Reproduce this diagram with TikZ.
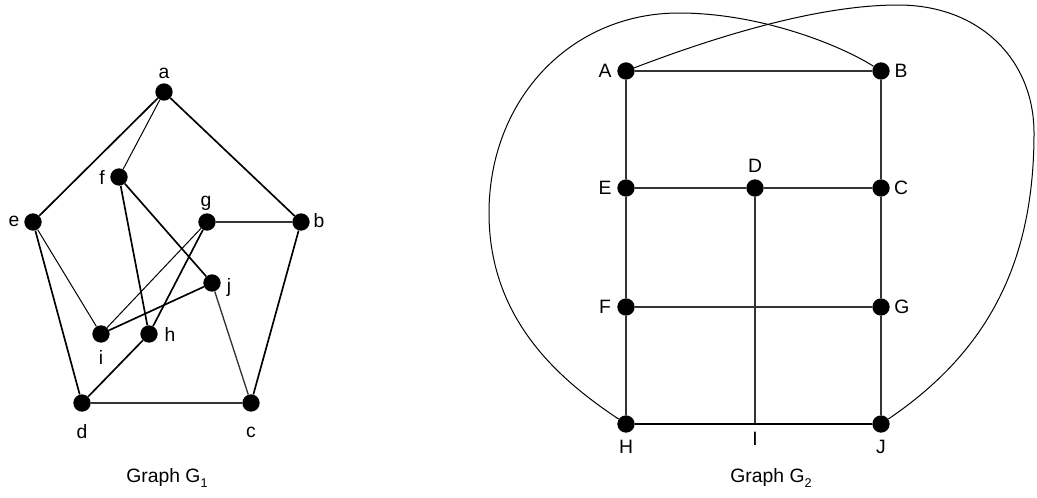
\documentclass[tikz,border=0pt]{standalone}
\usepackage{fontspec}
\setmainfont{Liberation Sans}
\newcommand{\lowsub}[1]{\raisebox{-0.45ex}{\fontsize{9.5pt}{10pt}\selectfont #1}}
\begin{document}
\begin{tikzpicture}[x=0.75pt,y=-0.75pt,
  vtx/.style={circle,fill=black,inner sep=0pt,minimum size=13pt},
  lbl/.style={inner sep=0pt,font=\fontsize{14.5pt}{16pt}\selectfont},
  thk/.style={line width=1.25pt},
  thn/.style={line width=0.75pt},
  med/.style={line width=1pt,black!80}]
\useasboundingbox (0,0) rectangle (1037,497);
% ---------- Graph G1 ----------
\node[vtx] (a) at (164,92) {};
\node[vtx] (b) at (301,222) {};
\node[vtx] (c) at (251,403) {};
\node[vtx] (d) at (82,403) {};
\node[vtx] (e) at (33,222) {};
\node[vtx] (f) at (119,177) {};
\node[vtx] (g) at (207,222) {};
\node[vtx] (h) at (149,334) {};
\node[vtx] (i) at (101,334) {};
\node[vtx] (j) at (212,283) {};
\node[lbl] at (164,73) {a};
\node[lbl] at (319,221) {b};
\node[lbl] at (251,432) {c};
\node[lbl] at (82,432) {d};
\node[lbl] at (14,221) {e};
\node[lbl] at (102,177) {f};
\node[lbl] at (206,203) {g};
\node[lbl] at (170,334) {h};
\node[lbl] at (101,357) {i};
\node[lbl] at (229,287) {j};
\draw[thk] (a) -- (e);
\draw[thk] (a) -- (b);
\draw[thn] (a) -- (f);
\draw[thk] (e) -- (d);
\draw[thn] (e) -- (i);
\draw[thk] (f) -- (h);
\draw[thk] (f) -- (j);
\draw[med] (g) -- (b);
\draw[thn] (g) -- (i);
\draw[thk] (g) -- (h);
\draw[thk] (j) -- (i);
\draw[med] (j) -- (c);
\draw[thk] (b) -- (c);
\draw[med] (d) -- (c);
\draw[thk] (d) -- (h);
\node[lbl] at (167,478) {Graph G\lowsub{1}};
% ---------- Graph G2 ----------
\node[vtx] (A) at (626,71) {};
\node[vtx] (B) at (881,71) {};
\node[vtx] (E) at (626,188) {};
\node[vtx] (D) at (755,188) {};
\node[vtx] (C) at (881,188) {};
\node[vtx] (F) at (626,307) {};
\node[vtx] (G) at (881,307) {};
\node[vtx] (H) at (626,424) {};
\node[vtx] (J) at (881,424) {};
\coordinate (I) at (755,424);
\node[lbl] at (605,71) {A};
\node[lbl] at (901,71) {B};
\node[lbl] at (755,166) {D};
\node[lbl] at (605,188) {E};
\node[lbl] at (901,188) {C};
\node[lbl] at (605,307) {F};
\node[lbl] at (902,307) {G};
\node[lbl] at (626,447) {H};
\node[lbl] at (755,439) {I};
\node[lbl] at (881,447) {J};
\draw[med] (A) -- (B);
\draw[med] (A) -- (E);
\draw[med] (E) -- (F);
\draw[med] (F) -- (H);
\draw[med] (B) -- (C);
\draw[med] (C) -- (G);
\draw[med] (G) -- (J);
\draw[med] (E) -- (D);
\draw[med] (D) -- (C);
\draw[med] (F) -- (G);
\draw[med] (D) -- (I);
\draw[thk] (H) -- (J);
\draw[thn] (H) .. controls (560,380) and (489,320) .. (489,213)
  .. controls (489,100) and (570,13) .. (679,13)
  .. controls (760,13) and (840,45) .. (B);
\draw[thn] (A) .. controls (720,35) and (820,5) .. (898,5)
  .. controls (980,5) and (1034,60) .. (1034,133)
  .. controls (1034,260) and (990,350) .. (J);
\node[lbl] at (771,478) {Graph G\lowsub{2}};
\end{tikzpicture}
\end{document}
